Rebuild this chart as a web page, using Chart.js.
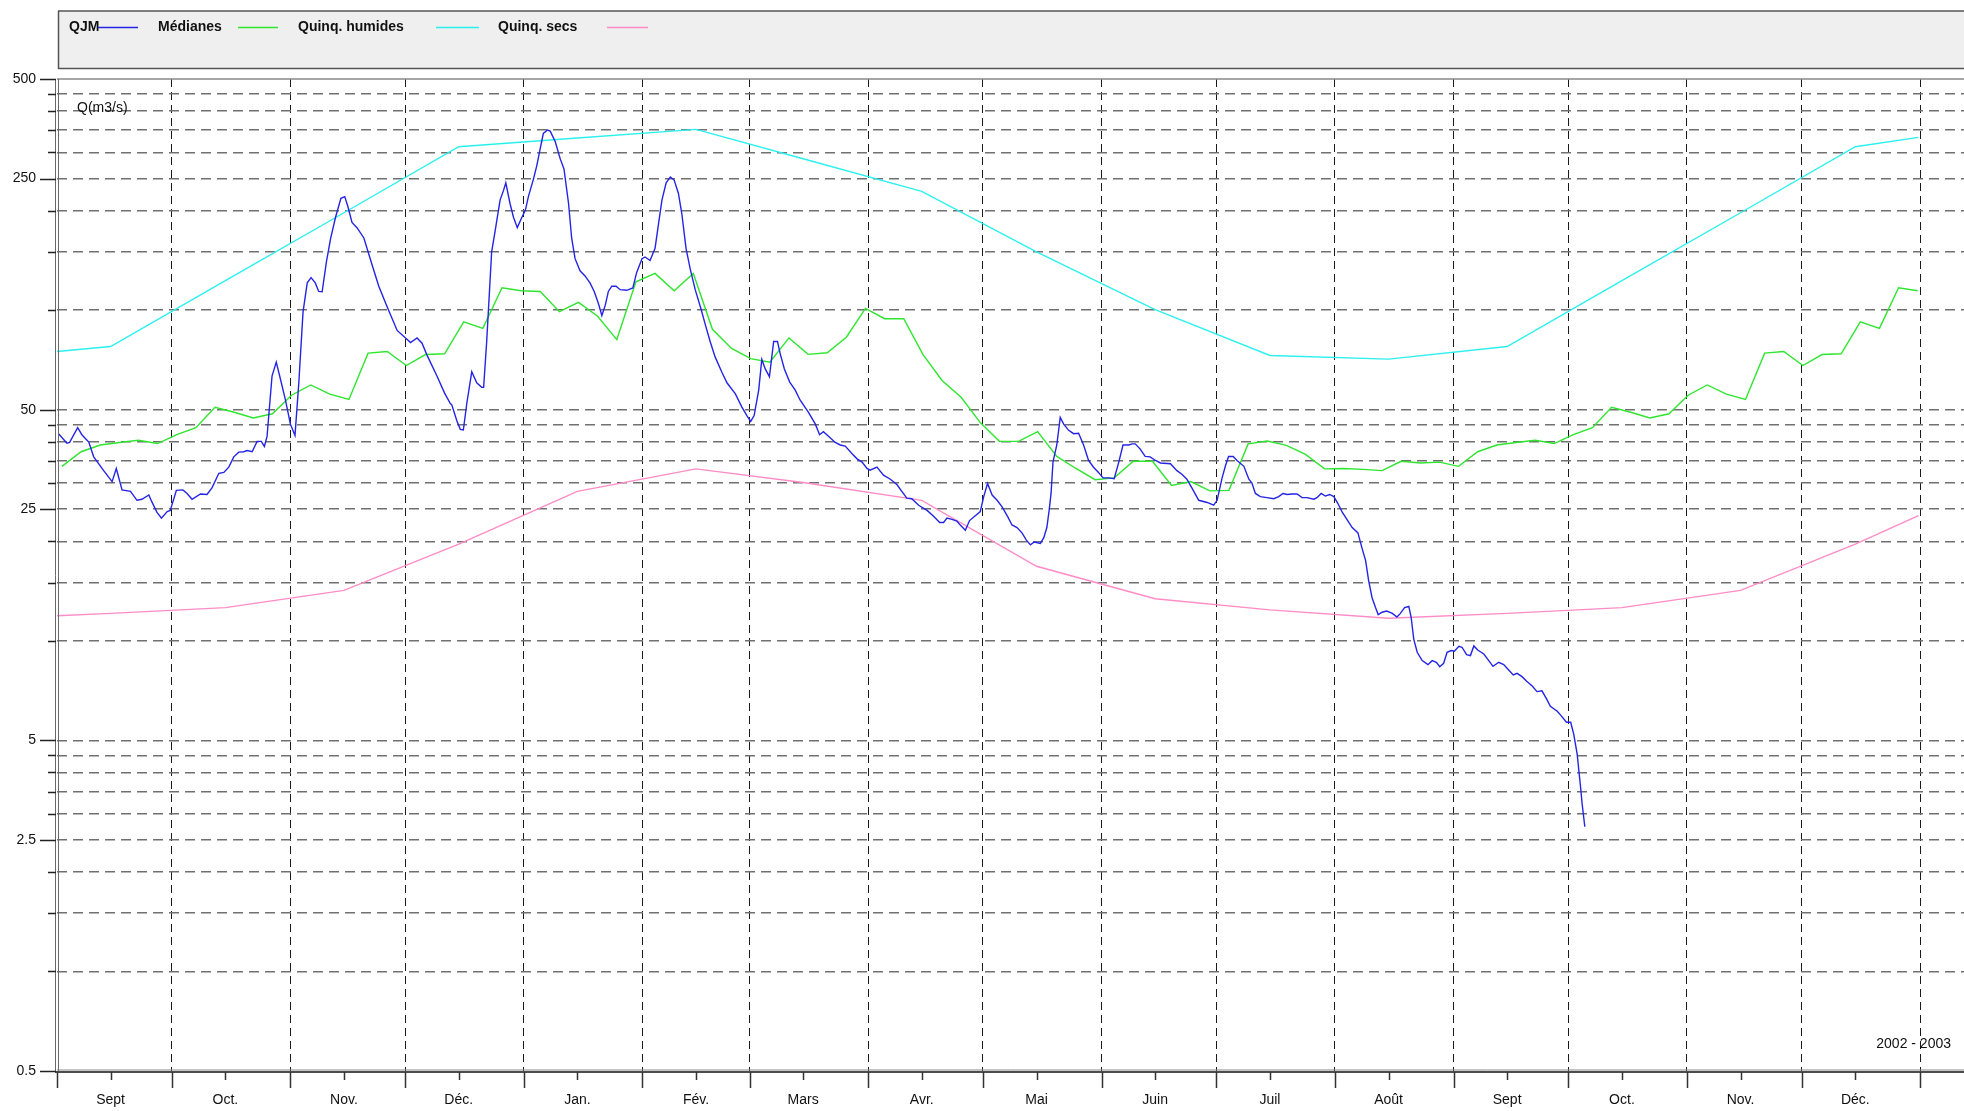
<!DOCTYPE html>
<html lang="fr">
<head>
<meta charset="utf-8">
<title>QJM 2002 - 2003</title>
<script src="https://cdn.jsdelivr.net/npm/chart.js@4.4.1/dist/chart.umd.min.js"></script>
<style>
html, body { margin: 0; padding: 0; background: #fff; overflow: hidden; }
canvas { display: block; }
</style>
</head>
<body>
<canvas id="qjmChart" width="1964" height="1111"></canvas>
<script>
// Axe des temps : jours depuis le 1er septembre 2002
var monthStarts = [0, 30, 61, 91, 122, 153, 181, 212, 242, 273, 303, 334, 365, 395, 426, 456, 487];
var monthMids = [14, 44, 75, 105, 136, 167, 195, 226, 256, 287, 317, 348, 379, 409, 440, 470];
var monthNames = ['Sept', 'Oct.', 'Nov.', 'Déc.', 'Jan.', 'Fév.', 'Mars', 'Avr.', 'Mai', 'Juin', 'Juil', 'Août', 'Sept', 'Oct.', 'Nov.', 'Déc.'];
var xMax = 498.4;

// Axe des débits (log)
var yGridValues = [0.5, 1, 1.5, 2, 2.5, 3, 3.5, 4, 4.5, 5, 10, 15, 20, 25, 30, 35, 40, 45, 50,
                   100, 150, 200, 250, 300, 350, 400, 450, 500];
var yLabels = [0.5, 2.5, 5, 25, 50, 250, 500];

// QJM : débits journaliers
var qjmDays = [
  0.4, 2.6, 3.3, 5.4, 6.5, 8.3, 9.6, 12.2, 14.4, 15.5,
  17.0, 19.2, 20.9, 22.2, 24.0, 24.8, 26.1, 27.3, 28.8, 29.6,
  31.2, 32.9, 34.0, 35.3, 37.5, 39.2, 40.5, 42.3, 43.6, 44.9,
  46.2, 47.5, 48.8, 49.7, 51.0, 52.3, 53.4, 54.2, 54.9, 56.2,
  57.3, 58.2, 59.7, 61.0, 62.2, 63.2, 64.3, 65.4, 66.4, 67.5,
  68.4, 69.3, 70.4, 71.5, 72.8, 74.2, 75.2, 76.0, 77.1, 78.4,
  80.2, 82.4, 84.1, 86.3, 88.9, 91.1, 92.4, 94.1, 95.4, 96.7,
  99.3, 101.3, 102.8,
  103.2, 104.5, 105.4, 106.2, 107.1, 108.4, 109.7, 111.0, 111.5, 112.3,
  113.6, 114.5, 115.8, 116.7, 117.3, 118.4, 119.3, 120.3, 121.5, 122.4,
  123.2, 124.5, 125.4, 126.3, 127.1, 128.2, 128.9, 130.2, 131.5, 132.5,
  133.7, 134.5, 135.4, 136.7, 138.0, 139.3, 140.4, 141.5, 142.4, 143.3,
  144.1, 145.0, 146.1, 147.2, 148.9, 150.5, 151.5, 152.9, 153.7, 155.0,
  156.3, 157.2, 158.1, 159.2, 160.3, 161.3, 162.4, 163.3, 164.4, 165.5,
  166.8, 168.3, 169.4, 170.7, 172.0, 173.8, 175.1, 177.3, 179.0, 180.3,
  181.3, 182.2, 183.4, 184.2, 185.1, 186.2, 187.3, 188.3, 189.0, 190.1,
  191.5, 192.9, 194.2, 196.4, 198.2, 199.3, 200.3, 201.7,
  203.4, 204.7, 206.0, 207.8, 209.1, 210.4, 211.7, 212.5, 214.3, 216.0,
  217.8, 219.5, 220.8, 222.1, 223.4, 225.2, 227.4, 229.1, 230.7, 231.7,
  232.6, 233.9, 235.2, 236.2, 237.4, 238.5, 240.0, 241.3, 242.2, 243.2,
  244.4, 245.7, 247.0, 248.5, 249.6, 250.9, 252.2, 253.3, 254.4, 255.4,
  257.0, 257.9, 258.7, 259.3, 259.8, 260.3, 261.3, 262.2, 263.1, 264.4,
  265.7, 267.0, 268.3, 269.6, 270.9, 272.2, 273.4, 274.9, 276.3, 277.5,
  278.6, 280.1, 281.0, 281.8, 283.1, 284.4, 285.7, 287.1, 288.4, 291.0,
  292.7, 294.0, 295.3, 296.6, 298.4, 300.6, 302.3, 303.2, 304.5, 305.4,
  306.2, 307.4, 308.4, 310.2, 311.5, 312.3, 313.2, 314.5, 316.2, 318.0,
  319.3, 320.4, 321.5, 322.8, 324.1, 325.4, 326.7, 328.5, 329.3, 330.4,
  331.5, 332.6, 333.7, 334.7, 335.9, 337.2, 338.5, 340.0, 341.1,
  342.0, 342.8, 343.7, 344.6, 345.3, 346.3, 347.5, 349.0, 350.2, 351.1,
  352.2, 353.3, 353.9, 354.6, 355.5, 356.8, 358.3, 359.4, 360.5, 361.4,
  362.4, 363.3, 364.4, 365.2, 366.4, 367.2, 368.4, 369.4, 370.3, 371.3,
  372.9, 374.2, 375.3, 376.8, 378.1, 379.4, 380.6, 381.6, 382.9, 384.1,
  385.5, 386.8, 388.1, 389.3, 390.3, 392.1, 393.1, 394.5, 395.6, 396.4,
  397.3, 398.2, 398.6, 399.3
];
var qjmFlow = [
  42.3, 39.6, 39.8, 44.1, 42.0, 39.9, 36.0, 32.7, 30.3, 33.2,
  28.6, 28.3, 26.6, 26.8, 27.6, 26.3, 24.5, 23.5, 24.6, 24.8,
  28.5, 28.6, 27.9, 26.8, 27.8, 27.7, 29.0, 32.1, 32.3, 33.5,
  36.0, 37.2, 37.3, 37.6, 37.3, 40.1, 40.1, 38.7, 41.5, 63.2,
  69.6, 63.2, 53.5, 45.2, 41.8, 60.3, 98.6, 120.9, 125.4, 120.9,
  113.9, 113.6, 139.7, 164.5, 190.9, 217.8, 220.4, 206.2, 184.2, 177.6,
  165.3, 136.4, 118.1, 102.2, 86.8, 82.4, 79.8, 82.4, 79.4, 73.1,
  63.2, 56.1, 52.2,
  51.6, 46.3, 43.6, 43.4, 52.2, 65.1, 60.3, 58.4, 58.4, 80.4,
  150.1, 173.4, 215.2, 230.2, 242.7, 210.1, 190.9, 177.6, 190.9, 200.3,
  220.4, 248.6, 273.6, 308.5, 342.1, 350.4, 347.9, 323.7, 287.2, 267.2,
  210.1, 165.3, 143.1, 131.5, 126.9, 120.9, 113.9, 104.7, 96.3, 103.5,
  113.9, 118.1, 118.1, 115.3, 114.8, 116.7, 130.0, 143.1, 144.8, 141.3,
  153.8, 182.0, 215.2, 242.7, 252.8, 247.4, 225.8, 195.6, 153.8, 133.1,
  115.3, 101.0, 90.7, 80.4, 72.2, 64.8, 60.3, 55.8, 50.9, 48.0,
  46.1, 48.0, 57.4, 71.0, 66.4, 62.9, 80.4, 80.4, 73.9, 66.4,
  60.6, 57.4, 53.5, 49.1, 45.2, 42.0, 42.9, 41.5,
  39.8, 39.1, 38.8, 36.8, 35.5, 34.7, 33.2, 32.8, 33.5, 31.7,
  30.8, 29.7, 28.3, 27.0, 26.9, 25.7, 24.8, 23.8, 22.8, 22.8,
  23.5, 23.3, 23.0, 22.3, 21.6, 23.1, 23.9, 24.6, 27.3, 29.9,
  27.6, 26.6, 25.4, 23.7, 22.4, 22.0, 21.2, 20.2, 19.5, 19.9,
  19.7, 20.5, 22.0, 24.8, 27.9, 34.7, 39.1, 47.4, 45.2, 43.3,
  42.3, 42.4, 39.1, 35.1, 33.5, 32.3, 31.1, 31.1, 30.9, 34.7,
  39.1, 39.1, 39.4, 39.4, 38.0, 36.1, 36.0, 35.1, 34.5, 34.3,
  32.7, 31.9, 30.8, 29.0, 26.6, 26.2, 25.7, 26.6, 31.1, 33.9,
  36.1, 36.1, 35.1, 33.7, 30.8, 30.0, 27.9, 27.3, 27.1, 26.9,
  27.3, 27.9, 27.7, 27.8, 27.8, 27.1, 27.1, 26.8, 27.1, 27.9,
  27.4, 27.7, 27.3, 26.1, 24.5, 23.2, 22.0, 21.2, 19.0,
  17.5, 15.2, 13.5, 12.6, 12.0, 12.2, 12.3, 12.1, 11.8, 12.1,
  12.6, 12.7, 11.8, 10.1, 9.23, 8.71, 8.47, 8.71, 8.61, 8.35,
  8.55, 9.23, 9.34, 9.30, 9.62, 9.56, 9.08, 9.02, 9.65, 9.38,
  9.12, 8.71, 8.37, 8.61, 8.47, 8.16, 7.88, 7.97, 7.79, 7.54,
  7.31, 7.02, 7.06, 6.67, 6.34, 6.12, 5.94, 5.67, 5.67, 5.22,
  4.54, 3.60, 3.21, 2.74
];

// Médianes : un point tous les 5 jours à partir du jour 1.3
var medFirstDay = 1.3;
var medStep = 5;
var medianes = [
  33.7, 37.3, 39.1, 39.8, 40.4, 39.5, 42.0, 44.1, 50.8, 49.1,
  47.2, 48.6, 55.3, 59.4, 55.7, 53.7, 74.1, 75.0, 68.0, 73.4,
  73.8, 92.2, 88.1, 116.9, 114.4, 113.9, 98.9, 105.5, 95.8, 81.4,
  121.8, 129.1, 114.4, 129.1, 87.5, 76.6, 71.3, 69.6, 82.4, 73.5,
  74.3, 82.8, 101.2, 94.2, 94.2, 73.5, 61.3, 54.5, 45.7, 40.1,
  40.1, 42.9, 36.1, 33.2, 30.7, 31.1, 34.9, 34.9, 29.5, 30.3,
  28.4, 28.5, 39.4, 40.2, 39.0, 36.6, 33.1, 33.2, 33.0, 32.7,
  34.9, 34.5, 34.7,
  33.7, 37.3, 39.1, 39.8, 40.4, 39.5, 42.0, 44.1, 50.8, 49.1,
  47.2, 48.6, 55.3, 59.4, 55.7, 53.7, 74.1, 75.0, 68.0, 73.4,
  73.8, 92.2, 88.1, 116.9, 114.4
];

// Quinquennales : points de mi-mois
var quinqDays = [0, 14, 44, 75, 105, 136, 167, 195, 226, 256, 287, 317, 348, 379, 409, 440, 470, 486.5];
var quinqHumides = [75.0, 77.6, 122.8, 197, 312, 331.6, 352, 287, 228.6, 150, 100.3, 72.9, 71.1, 77.6, 122.8, 197, 312, 333];
var quinqSecs = [11.9, 12.1, 12.6, 14.2, 19.6, 28.3, 33.1, 30.1, 26.6, 16.8, 13.4, 12.4, 11.7, 12.1, 12.6, 14.2, 19.6, 23.9];

var FONT = '"Liberation Sans", Arial, sans-serif';
Chart.defaults.font.family = FONT;
Chart.defaults.font.size = 14;
Chart.defaults.color = '#111';

function points(xs, ys) {
    return ys.map(function (v, i) { return { x: xs[i], y: v }; });
}
var medPoints = medianes.map(function (v, i) { return { x: medFirstDay + i * medStep, y: v }; });

// Cadre, légende et graduations dessinés à la main
var cadre = {
    id: 'cadre',
    beforeDraw: function (chart) {
        var ctx = chart.ctx;
        var W = chart.width;
        ctx.save();
        ctx.fillStyle = '#fff';
        ctx.fillRect(0, 0, W, chart.height);

        // boîte de légende
        ctx.fillStyle = '#efefef';
        ctx.fillRect(58, 11, W, 58);
        ctx.strokeStyle = '#555';
        ctx.lineWidth = 1.5;
        ctx.beginPath();
        ctx.moveTo(58, 11); ctx.lineTo(W, 11);
        ctx.moveTo(58, 68.5); ctx.lineTo(W, 68.5);
        ctx.moveTo(58.5, 11); ctx.lineTo(58.5, 69);
        ctx.stroke();

        var slots = [[69, 98, 138], [158, 238, 278], [298, 436, 479], [498, 607, 648]];
        ctx.font = 'bold 14px ' + FONT;
        ctx.textBaseline = 'middle';
        chart.data.datasets.forEach(function (ds, i) {
            var s = slots[i];
            ctx.fillStyle = '#111';
            ctx.fillText(ds.label, s[0], 27);
            ctx.strokeStyle = ds.borderColor;
            ctx.lineWidth = 1.5;
            ctx.beginPath();
            ctx.moveTo(s[1], 27.5); ctx.lineTo(s[2], 27.5);
            ctx.stroke();
        });
        ctx.restore();
    },
    afterDraw: function (chart) {
        var ctx = chart.ctx;
        var a = chart.chartArea;
        var xs = chart.scales.x, ys = chart.scales.y;
        ctx.save();

        // bord haut
        ctx.strokeStyle = '#888';
        ctx.lineWidth = 1.5;
        ctx.beginPath();
        ctx.moveTo(a.left, a.top); ctx.lineTo(a.right, a.top);
        ctx.stroke();

        // axe gauche double
        ctx.strokeStyle = '#6a6a6a';
        ctx.lineWidth = 1;
        ctx.beginPath();
        ctx.moveTo(a.left - 1.5, a.top); ctx.lineTo(a.left - 1.5, a.bottom + 1);
        ctx.moveTo(a.left + 1.5, a.top); ctx.lineTo(a.left + 1.5, a.bottom);
        ctx.stroke();

        // axe bas double
        ctx.strokeStyle = '#888';
        ctx.beginPath();
        ctx.moveTo(a.left, a.bottom - 1); ctx.lineTo(a.right, a.bottom - 1);
        ctx.stroke();
        ctx.strokeStyle = '#111';
        ctx.lineWidth = 1.5;
        ctx.beginPath();
        ctx.moveTo(a.left - 2, a.bottom + 1); ctx.lineTo(a.right, a.bottom + 1);
        ctx.stroke();

        // graduations Y
        ctx.strokeStyle = '#222';
        ctx.lineWidth = 1.5;
        ctx.beginPath();
        yGridValues.forEach(function (v) {
            var py = Math.round(ys.getPixelForValue(v)) + 0.5;
            var len = yLabels.indexOf(v) >= 0 ? 17 : 9;
            ctx.moveTo(a.left - len, py); ctx.lineTo(a.left - 1, py);
        });
        ctx.stroke();

        // graduations X
        ctx.strokeStyle = '#333';
        ctx.beginPath();
        monthStarts.forEach(function (d) {
            var px = Math.round(xs.getPixelForValue(d)) + 0.5;
            ctx.moveTo(px, a.bottom + 1); ctx.lineTo(px, a.bottom + 17);
        });
        monthMids.forEach(function (d) {
            var px = Math.round(xs.getPixelForValue(d)) + 0.5;
            ctx.moveTo(px, a.bottom + 1); ctx.lineTo(px, a.bottom + 9);
        });
        ctx.stroke();

        // textes
        ctx.fillStyle = '#111';
        ctx.font = '14px ' + FONT;
        ctx.textBaseline = 'middle';
        ctx.textAlign = 'left';
        ctx.fillText('Q(m3/s)', a.left + 20, a.top + 29);
        ctx.textAlign = 'right';
        ctx.fillText('2002 - 2003', a.right - 13, a.bottom - 27);
        ctx.restore();
    }
};

var ctx = document.getElementById('qjmChart').getContext('2d');
var qjmChart = new Chart(ctx, {
    type: 'line',
    data: {
        datasets: [{
            label: 'QJM',
            data: points(qjmDays, qjmFlow),
            borderColor: '#2424e6',
            borderWidth: 1.4
        }, {
            label: 'Médianes',
            data: medPoints,
            borderColor: '#2ee62e',
            borderWidth: 1.4
        }, {
            label: 'Quinq. humides',
            data: points(quinqDays, quinqHumides),
            borderColor: '#2cf0f0',
            borderWidth: 1.4
        }, {
            label: 'Quinq. secs',
            data: points(quinqDays, quinqSecs),
            borderColor: '#ff8cc6',
            borderWidth: 1.4
        }]
    },
    options: {
        responsive: false,
        animation: false,
        devicePixelRatio: 1,
        layout: { padding: { top: 79, left: 0, right: 0, bottom: 0 } },
        elements: {
            point: { radius: 0 },
            line: { tension: 0, fill: false }
        },
        plugins: {
            legend: { display: false },
            tooltip: { enabled: false }
        },
        scales: {
            x: {
                type: 'linear',
                min: 0,
                max: xMax,
                afterBuildTicks: function (s) {
                    s.ticks = monthStarts.concat(monthMids)
                        .sort(function (p, q) { return p - q; })
                        .map(function (v) { return { value: v }; });
                },
                afterFit: function (s) { s.height = 40; },
                ticks: {
                    autoSkip: false,
                    maxRotation: 0,
                    padding: 21,
                    color: '#111',
                    callback: function (v) {
                        var i = monthMids.indexOf(v);
                        return i >= 0 ? monthNames[i] : '';
                    }
                },
                grid: {
                    drawTicks: false,
                    lineWidth: 1,
                    color: function (c) {
                        if (!c.tick) return 'rgba(0,0,0,0)';
                        var v = c.tick.value;
                        return (v > 0 && monthStarts.indexOf(v) >= 0) ? '#1a1a1a' : 'rgba(0,0,0,0)';
                    }
                },
                border: { display: false, dash: [8, 5] }
            },
            y: {
                type: 'logarithmic',
                min: 0.5,
                max: 500,
                afterBuildTicks: function (s) {
                    s.ticks = yGridValues.map(function (v) { return { value: v }; });
                },
                afterFit: function (s) { s.width = 57; },
                ticks: {
                    autoSkip: false,
                    padding: 21,
                    color: '#111',
                    callback: function (v) {
                        return yLabels.indexOf(v) >= 0 ? String(v) : '';
                    }
                },
                grid: {
                    drawTicks: false,
                    lineWidth: 1.5,
                    color: function (c) {
                        if (!c.tick) return 'rgba(0,0,0,0)';
                        var v = c.tick.value;
                        return (v === 500 || v === 0.5) ? 'rgba(0,0,0,0)' : '#707070';
                    }
                },
                border: { display: false, dash: [10, 6] }
            }
        }
    },
    plugins: [cadre]
});
</script>
</body>
</html>
